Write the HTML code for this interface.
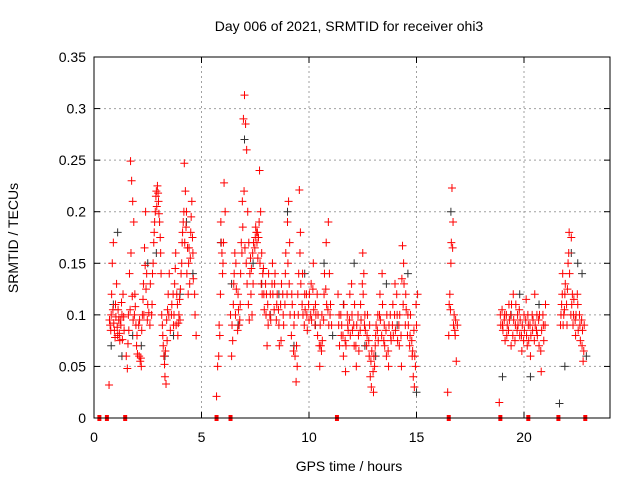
<!DOCTYPE html>
<html><head><meta charset="utf-8">
<style>
body{margin:0;background:#fff;}
svg{display:block;font-family:"Liberation Sans",sans-serif;}
</style></head>
<body>
<svg id="chart" width="640" height="480">
<text x="349" y="31" font-size="14" text-anchor="middle">Day 006 of 2021, SRMTID for receiver ohi3</text>
<text x="349" y="471" font-size="14" text-anchor="middle">GPS time / hours</text>
<text x="18" y="238" font-size="14" text-anchor="middle" transform="rotate(-90 18 238)">SRMTID / TECUs</text>
<g id="grid"></g>
<g id="ticks"></g>
<g id="black"></g>
<g id="red"></g>
<rect x="94" y="57" width="516" height="361" fill="none" stroke="#000" stroke-width="1"/>
</svg>
<script>
const xTicks=[0,5,10,15,20];
const yTicks=[0,0.05,0.1,0.15,0.2,0.25,0.3,0.35];
const yTickLabels=["0","0.05","0.1","0.15","0.2","0.25","0.3","0.35"];
const zeroMarks=[0.25,0.6,1.45,5.7,6.35,11.3,16.5,18.9,20.2,21.6,22.85];
const redPts=[[0.7,0.032],[0.75,0.09],[0.8,0.1],[0.85,0.15],[0.9,0.17],[0.95,0.085],[1.0,0.11],[1.05,0.13],[1.1,0.08],[1.15,0.095],[1.2,0.075],[1.25,0.09],[1.3,0.1],[1.35,0.12],[1.4,0.085],[1.5,0.06],[1.55,0.048],[1.6,0.1],[1.65,0.14],[1.7,0.249],[1.75,0.23],[1.8,0.21],[1.85,0.19],[1.9,0.12],[1.95,0.09],[2.0,0.08],[2.1,0.06],[2.15,0.055],[2.2,0.05],[2.25,0.1],[2.3,0.13],[2.35,0.165],[2.4,0.2],[2.45,0.14],[2.5,0.11],[2.6,0.09],[2.7,0.11],[2.75,0.15],[2.8,0.18],[2.85,0.2],[2.9,0.22],[2.95,0.225],[3.0,0.21],[3.05,0.19],[3.1,0.16],[3.15,0.1],[3.2,0.08],[3.25,0.06],[3.3,0.04],[3.35,0.033],[3.4,0.075],[3.45,0.12],[3.5,0.14],[3.6,0.1],[3.7,0.09],[3.75,0.13],[3.8,0.16],[3.85,0.12],[3.9,0.08],[3.95,0.1],[4.0,0.095],[4.05,0.14],[4.1,0.17],[4.15,0.19],[4.2,0.247],[4.25,0.22],[4.3,0.2],[4.35,0.165],[4.4,0.15],[4.45,0.13],[4.5,0.18],[4.55,0.21],[4.6,0.16],[4.7,0.1],[4.75,0.08],[5.7,0.021],[5.75,0.05],[5.8,0.06],[5.85,0.08],[5.9,0.19],[5.95,0.16],[6.0,0.15],[6.05,0.228],[6.1,0.2],[6.35,0.1],[6.4,0.06],[6.45,0.075],[6.5,0.13],[6.55,0.16],[6.6,0.15],[6.7,0.12],[6.75,0.09],[6.8,0.11],[6.85,0.17],[6.9,0.21],[6.95,0.29],[7.0,0.313],[7.05,0.285],[7.1,0.26],[7.15,0.2],[7.2,0.17],[7.25,0.14],[7.3,0.12],[7.35,0.1],[7.4,0.13],[7.5,0.175],[7.55,0.18],[7.6,0.18],[7.65,0.175],[7.7,0.24],[7.75,0.2],[7.8,0.16],[7.85,0.14],[7.9,0.12],[8.0,0.1],[8.05,0.07],[8.1,0.09],[8.2,0.12],[8.3,0.15],[8.4,0.13],[8.5,0.11],[8.6,0.09],[8.7,0.075],[8.8,0.1],[8.9,0.14],[9.0,0.19],[9.05,0.21],[9.1,0.17],[9.2,0.12],[9.3,0.09],[9.35,0.06],[9.4,0.035],[9.45,0.05],[9.5,0.1],[9.55,0.221],[9.6,0.18],[9.7,0.14],[9.8,0.12],[9.9,0.1],[10.0,0.095],[10.1,0.13],[10.2,0.15],[10.3,0.11],[10.4,0.08],[10.5,0.05],[10.55,0.07],[10.6,0.1],[10.7,0.12],[10.8,0.17],[10.9,0.19],[10.95,0.14],[11.0,0.11],[11.05,0.09],[11.35,0.12],[11.4,0.1],[11.5,0.08],[11.6,0.06],[11.7,0.045],[11.8,0.09],[11.9,0.12],[12.0,0.1],[12.1,0.07],[12.2,0.05],[12.3,0.08],[12.4,0.11],[12.5,0.16],[12.55,0.14],[12.6,0.1],[12.7,0.08],[12.8,0.06],[12.85,0.04],[12.9,0.03],[13.0,0.025],[13.05,0.05],[13.1,0.08],[13.2,0.1],[13.3,0.12],[13.4,0.14],[13.5,0.09],[13.6,0.06],[13.7,0.05],[13.8,0.08],[13.9,0.11],[14.0,0.13],[14.1,0.1],[14.2,0.07],[14.3,0.05],[14.35,0.167],[14.4,0.15],[14.5,0.12],[14.6,0.1],[14.7,0.08],[14.8,0.06],[14.85,0.04],[14.9,0.03],[14.95,0.05],[15.0,0.09],[15.05,0.12],[16.45,0.025],[16.5,0.08],[16.55,0.12],[16.6,0.15],[16.62,0.17],[16.65,0.223],[16.7,0.19],[16.75,0.1],[16.8,0.08],[16.85,0.055],[16.9,0.09],[18.85,0.015],[18.9,0.1],[19.0,0.09],[19.1,0.1],[19.2,0.08],[19.3,0.11],[19.4,0.07],[19.5,0.12],[19.6,0.09],[19.7,0.1],[19.8,0.08],[19.9,0.065],[20.0,0.1],[20.1,0.115],[20.15,0.07],[20.2,0.09],[20.3,0.06],[20.4,0.085],[20.5,0.12],[20.6,0.1],[20.7,0.07],[20.8,0.045],[20.9,0.09],[21.0,0.11],[21.7,0.09],[21.75,0.11],[21.8,0.14],[21.85,0.1],[21.9,0.12],[22.0,0.09],[22.05,0.15],[22.1,0.18],[22.2,0.175],[22.25,0.12],[22.3,0.1],[22.4,0.08],[22.5,0.11],[22.6,0.09],[22.7,0.07],[22.75,0.055],[22.8,0.09],
[0.72,0.095],[0.78,0.085],[0.82,0.12],[0.88,0.105],[0.92,0.092],[0.98,0.078],[1.02,0.098],[1.08,0.088],[1.12,0.105],[1.18,0.082],[1.22,0.095],[1.28,0.112],[1.32,0.076],[1.38,0.098],[1.58,0.072],[1.62,0.085],[1.68,0.105],[1.72,0.16],[1.78,0.118],[1.82,0.095],[1.88,0.1],[1.92,0.108],[1.98,0.07],[2.02,0.062],[2.08,0.09],[2.12,0.095],[2.18,0.058],[2.22,0.085],[2.28,0.115],[2.32,0.1],[2.38,0.148],[2.42,0.125],[2.48,0.095],[2.55,0.102],[2.62,0.13],[2.68,0.1],[2.72,0.14],[2.78,0.17],[2.82,0.19],[2.88,0.215],[2.92,0.205],[2.98,0.218],[3.02,0.198],[3.08,0.175],[3.12,0.14],[3.18,0.09],[3.22,0.07],[3.28,0.052],[3.32,0.065],[3.38,0.095],[3.42,0.105],[3.48,0.1],[3.55,0.085],[3.62,0.11],[3.68,0.12],[3.72,0.1],[3.78,0.145],[3.82,0.09],[3.88,0.11],[3.92,0.092],[3.98,0.115],[4.02,0.125],[4.08,0.15],[4.12,0.18],[4.18,0.2],[4.22,0.17],[4.28,0.185],[4.32,0.14],[4.38,0.12],[4.42,0.165],[4.48,0.155],[4.52,0.195],[4.58,0.175],[4.62,0.135],[4.68,0.12],[5.82,0.09],[5.88,0.12],[5.92,0.17],[5.98,0.14],[6.02,0.17],[6.42,0.09],[6.48,0.11],[6.52,0.14],[6.58,0.1],[6.62,0.125],[6.68,0.085],[6.72,0.105],[6.78,0.095],[6.82,0.14],[6.88,0.16],[6.92,0.185],[6.98,0.22],[7.02,0.165],[7.08,0.15],[7.12,0.13],[7.18,0.11],[7.22,0.095],[7.28,0.155],[7.32,0.145],[7.38,0.16],[7.42,0.17],[7.48,0.165],[7.52,0.185],[7.58,0.17],[7.62,0.155],[7.68,0.19],[7.72,0.15],[7.78,0.13],[7.82,0.12],[7.88,0.145],[7.92,0.105],[7.98,0.13],[8.02,0.12],[8.08,0.11],[8.12,0.14],[8.18,0.1],[8.22,0.095],[8.28,0.13],[8.32,0.12],[8.38,0.105],[8.42,0.14],[8.48,0.095],[8.52,0.12],[8.58,0.105],[8.62,0.07],[8.68,0.11],[8.72,0.13],[8.78,0.12],[8.82,0.09],[8.88,0.11],[8.92,0.16],[8.98,0.12],[9.02,0.15],[9.08,0.13],[9.12,0.1],[9.18,0.08],[9.22,0.11],[9.28,0.065],[9.32,0.1],[9.42,0.07],[9.48,0.12],[9.52,0.14],[9.58,0.16],[9.62,0.13],[9.68,0.11],[9.72,0.1],[9.78,0.09],[9.82,0.105],[9.88,0.12],[9.92,0.085],[9.98,0.11],[10.02,0.12],[10.08,0.1],[10.12,0.095],[10.18,0.125],[10.22,0.105],[10.28,0.09],[10.32,0.1],[10.38,0.12],[10.42,0.1],[10.48,0.07],[10.52,0.09],[10.58,0.065],[10.62,0.075],[10.68,0.095],[10.72,0.14],[10.78,0.125],[10.82,0.11],[10.88,0.105],[10.92,0.09],[10.98,0.1],[11.38,0.09],[11.42,0.07],[11.48,0.1],[11.52,0.09],[11.58,0.08],[11.62,0.11],[11.68,0.075],[11.72,0.07],[11.78,0.1],[11.82,0.085],[11.88,0.095],[11.92,0.08],[11.98,0.13],[12.02,0.085],[12.08,0.09],[12.12,0.11],[12.18,0.07],[12.22,0.09],[12.28,0.1],[12.32,0.065],[12.38,0.085],[12.42,0.095],[12.48,0.13],[12.52,0.12],[12.58,0.09],[12.62,0.085],[12.68,0.07],[12.72,0.1],[12.78,0.075],[12.82,0.09],[12.88,0.055],[12.92,0.065],[12.98,0.045],[13.02,0.06],[13.08,0.07],[13.12,0.09],[13.18,0.085],[13.22,0.075],[13.28,0.1],[13.32,0.095],[13.38,0.08],[13.42,0.11],[13.48,0.075],[13.52,0.07],[13.58,0.085],[13.62,0.1],[13.68,0.065],[13.72,0.09],[13.78,0.1],[13.82,0.075],[13.88,0.09],[13.92,0.08],[13.98,0.1],[14.02,0.085],[14.08,0.12],[14.12,0.075],[14.18,0.09],[14.22,0.1],[14.28,0.08],[14.32,0.135],[14.38,0.11],[14.42,0.13],[14.48,0.09],[14.52,0.105],[14.58,0.08],[14.62,0.09],[14.68,0.07],[14.72,0.1],[14.78,0.075],[14.82,0.065],[14.88,0.085],[14.92,0.06],[14.98,0.11],[16.52,0.11],[16.58,0.105],[16.68,0.165],[16.72,0.09],[16.78,0.085],[16.82,0.095],[18.92,0.09],[18.98,0.105],[19.02,0.085],[19.08,0.095],[19.12,0.075],[19.18,0.1],[19.22,0.09],[19.28,0.085],[19.32,0.095],[19.38,0.1],[19.42,0.11],[19.48,0.08],[19.52,0.095],[19.58,0.075],[19.62,0.11],[19.68,0.085],[19.72,0.09],[19.78,0.105],[19.82,0.095],[19.88,0.08],[19.92,0.09],[19.98,0.075],[20.02,0.085],[20.08,0.095],[20.12,0.08],[20.18,0.1],[20.22,0.075],[20.28,0.09],[20.32,0.08],[20.38,0.1],[20.42,0.095],[20.48,0.075],[20.52,0.09],[20.58,0.085],[20.62,0.08],[20.68,0.095],[20.72,0.1],[20.78,0.065],[20.82,0.085],[20.88,0.1],[20.92,0.075],[20.98,0.09],[21.72,0.1],[21.78,0.12],[21.82,0.09],[21.88,0.105],[21.92,0.13],[21.98,0.11],[22.02,0.125],[22.08,0.16],[22.12,0.14],[22.18,0.1],[22.22,0.11],[22.28,0.09],[22.32,0.115],[22.38,0.095],[22.42,0.1],[22.48,0.12],[22.52,0.085],[22.58,0.1],[22.62,0.075],[22.68,0.095],[22.72,0.085],[22.78,0.065]];
const blackPts=[[0.8,0.07],[0.9,0.11],[1.1,0.18],[1.3,0.06],[1.8,0.08],[2.2,0.07],[2.5,0.15],[2.9,0.16],[3.3,0.06],[3.7,0.08],[4.0,0.12],[4.3,0.19],[4.6,0.14],[5.9,0.17],[6.4,0.13],[6.7,0.09],[7.0,0.27],[7.4,0.15],[7.8,0.13],[8.2,0.1],[8.6,0.12],[9.0,0.2],[9.3,0.07],[9.8,0.14],[10.3,0.09],[10.7,0.15],[11.1,0.08],[11.6,0.11],[12.1,0.15],[12.6,0.07],[13.1,0.06],[13.6,0.13],[14.1,0.09],[14.6,0.14],[15.0,0.025],[16.6,0.2],[19.0,0.04],[19.4,0.1],[19.8,0.12],[20.3,0.04],[20.7,0.11],[21.65,0.014],[21.9,0.05],[22.2,0.16],[22.5,0.15],[22.7,0.14],[22.9,0.06]];
const NS="http://www.w3.org/2000/svg";
const X0=94,X1=610,Y0=418,Y1=57;
function sx(t){return X0+(X1-X0)*t/24;}
function sy(v){return Y0-(Y0-Y1)*v/0.35;}
function mk(tag,attrs,parent){const e=document.createElementNS(NS,tag);for(const k in attrs)e.setAttribute(k,attrs[k]);parent.appendChild(e);return e;}
const grid=document.getElementById('grid'),ticks=document.getElementById('ticks');
yTicks.forEach((v,i)=>{const y=sy(v);
 if(i>0&&i<yTicks.length-1){const l=mk('line',{x1:X0,x2:X1,y1:y,y2:y,stroke:'#a0a0a0','stroke-dasharray':'2,3'},grid);}
 mk('line',{x1:X0,x2:X0+6,y1:y,y2:y,stroke:'#000'},ticks);
 mk('line',{x1:X1,x2:X1-6,y1:y,y2:y,stroke:'#000'},ticks);
 const t=mk('text',{x:X0-8,y:y+5,'font-size':14,'text-anchor':'end'},ticks);t.textContent=yTickLabels[i];
 
});
xTicks.forEach(v=>{const x=sx(v);
 if(v>0){const l=mk('line',{x1:x,x2:x,y1:Y0,y2:Y1,stroke:'#a0a0a0','stroke-dasharray':'2,3'},grid);}
 mk('line',{x1:x,x2:x,y1:Y0,y2:Y0-6,stroke:'#000'},ticks);
 mk('line',{x1:x,x2:x,y1:Y1,y2:Y1+6,stroke:'#000'},ticks);
 const t=mk('text',{x:x,y:Y0+24,'font-size':14,'text-anchor':'middle'},ticks);t.textContent=String(v);
 
});
function plus(g,t,v,c){const x=sx(t),y=sy(v);
 const p=mk('path',{d:`M${x-4},${y}H${x+4}M${x},${y-4}V${y+4}`,stroke:c,'stroke-width':1,fill:'none'},g);
 }
const bg=document.getElementById('black'),rg=document.getElementById('red');
blackPts.forEach(p=>plus(bg,p[0],p[1],'#333'));
redPts.forEach(p=>plus(rg,p[0],p[1],'#f00'));
zeroMarks.forEach(t=>{const r=mk('rect',{x:sx(t)-2,y:Y0-3,width:4,height:6,fill:'#f00'},rg);
 });
</script>
</body></html>
